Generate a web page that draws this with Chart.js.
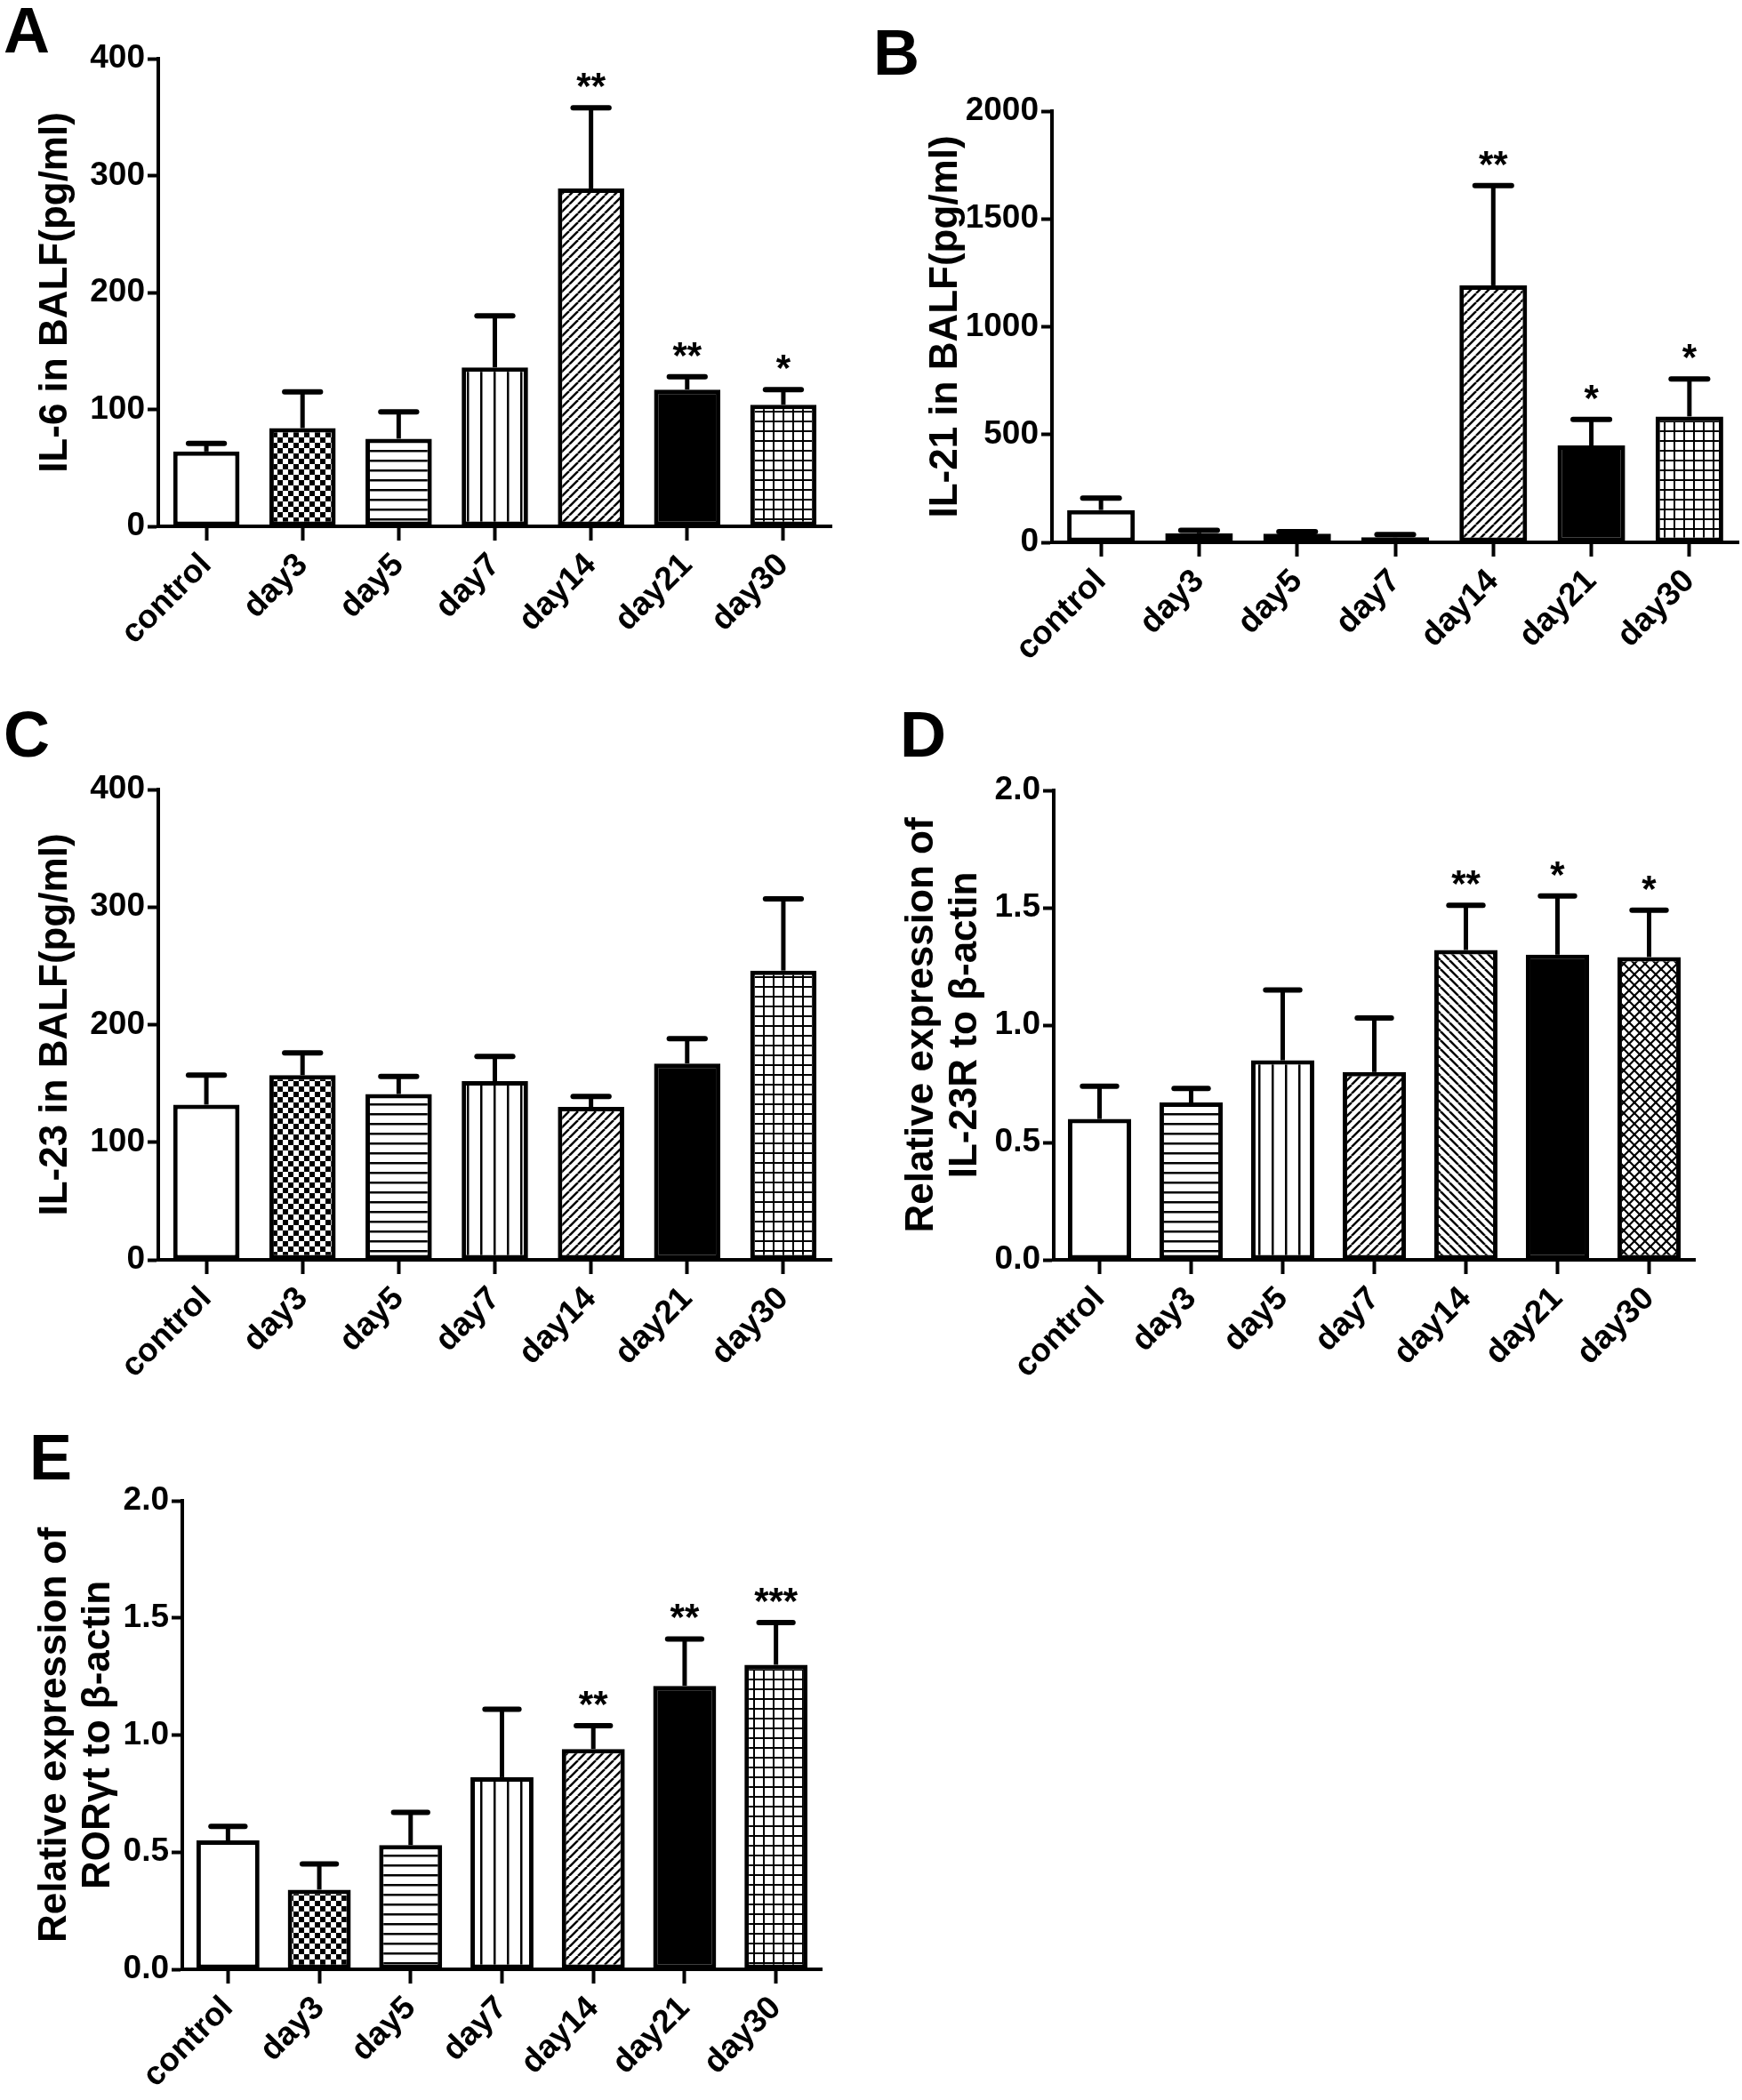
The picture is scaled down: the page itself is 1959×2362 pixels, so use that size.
<!DOCTYPE html>
<html lang="en">
<head>
<meta charset="UTF-8">
<title>IL-6, IL-21, IL-23, IL-23R and RORγt</title>
<script src="https://cdn.jsdelivr.net/npm/chart.js"></script>
<style>
  body { margin: 0; background: #fff; }
  #page { position: relative; width: 1959px; height: 2362px; overflow: hidden; background: #fff; }
  canvas { position: absolute; }
  .letter { position: absolute; font: bold 72px "Liberation Sans", Arial, sans-serif; line-height: 1; color: #000; }
</style>
</head>
<body>
<div id="page">
  <canvas id="chartA" width="980" height="790" style="left:0px;top:0px"></canvas>
  <canvas id="chartB" width="979" height="790" style="left:980px;top:0px"></canvas>
  <canvas id="chartC" width="980" height="790" style="left:0px;top:790px"></canvas>
  <canvas id="chartD" width="979" height="790" style="left:980px;top:790px"></canvas>
  <canvas id="chartE" width="980" height="782" style="left:0px;top:1580px"></canvas>
  <div class="letter" style="left:4px;top:-2px">A</div>
  <div class="letter" style="left:982px;top:23px">B</div>
  <div class="letter" style="left:4px;top:790px">C</div>
  <div class="letter" style="left:1012px;top:790px">D</div>
  <div class="letter" style="left:33px;top:1603px">E</div>
</div>

<script>
// groups on the x axis (same for every panel)
const categories = ['control', 'day3', 'day5', 'day7', 'day14', 'day21', 'day30'];

// A - IL-6 in BALF (pg/ml)
const il6Mean = [64, 84, 75, 136, 289, 117, 104];
const il6Sem = [7, 31, 23, 44, 69, 11, 13];
const il6Stars = ['', '', '', '', '**', '**', '*'];
const il6Ticks = [0, 100, 200, 300, 400];
const il6TickLabels = ['0', '100', '200', '300', '400'];

// B - IL-21 in BALF (pg/ml)
const il21Mean = [150, 42, 40, 24, 1192, 449, 584];
const il21Sem = [55, 14, 10, 12, 463, 121, 174];
const il21Stars = ['', '', '', '', '**', '*', '*'];
const il21Ticks = [0, 500, 1000, 1500, 2000];
const il21TickLabels = ['0', '500', '1000', '1500', '2000'];

// C - IL-23 in BALF (pg/ml)
const il23Mean = [132, 157, 141, 152, 130, 167, 246];
const il23Sem = [25, 19, 15, 21, 9, 21, 61];
const il23Stars = ['', '', '', '', '', '', ''];
const il23Ticks = [0, 100, 200, 300, 400];
const il23TickLabels = ['0', '100', '200', '300', '400'];

// D - relative expression of IL-23R to beta-actin
const il23rMean = [0.60, 0.67, 0.85, 0.80, 1.32, 1.30, 1.29];
const il23rSem = [0.14, 0.06, 0.30, 0.23, 0.19, 0.25, 0.20];
const il23rStars = ['', '', '', '', '**', '*', '*'];

// E - relative expression of RORgt to beta-actin
const rorMean = [0.55, 0.34, 0.53, 0.82, 0.94, 1.21, 1.30];
const rorSem = [0.06, 0.11, 0.14, 0.29, 0.10, 0.20, 0.18];
const rorStars = ['', '', '', '', '**', '**', '***'];

const relTicks = [0, 0.5, 1, 1.5, 2];
const relTickLabels = ['0.0', '0.5', '1.0', '1.5', '2.0'];

// fill style of each bar
const fillsMain = ['none', 'checker', 'hlines', 'vlines', 'diag', 'solid', 'grid'];
const fillsD = ['none', 'hlines', 'vlines', 'diag', 'diagBack', 'solid', 'weave'];

const fontFamily = '"Liberation Sans", Arial, sans-serif';

function makePattern(kind) {
    if (kind === 'none') return '#ffffff';
    if (kind === 'solid') return '#000000';
    const sizes = { checker: 12, hlines: 11, vlines: 15, diag: 10, diagBack: 10, grid: 11, weave: 12 };
    const n = sizes[kind];
    const c = document.createElement('canvas');
    c.width = n; c.height = n;
    const g = c.getContext('2d');
    g.fillStyle = '#fff';
    g.fillRect(0, 0, n, n);
    g.fillStyle = '#000';
    g.strokeStyle = '#000';
    if (kind === 'checker') {
        g.fillRect(0, 0, 6, 6);
        g.fillRect(6, 6, 6, 6);
    } else if (kind === 'hlines') {
        g.fillRect(0, 0, n, 2.5);
    } else if (kind === 'vlines') {
        g.fillRect(0, 0, 2.5, n);
    } else if (kind === 'grid') {
        g.fillRect(0, 0, n, 2);
        g.fillRect(0, 0, 2, n);
    } else {
        g.lineWidth = kind === 'weave' ? 2.2 : 2.5;
        for (let k = -n; k <= n; k += n) {
            if (kind !== 'diagBack') { g.beginPath(); g.moveTo(k, n); g.lineTo(k + n, 0); g.stroke(); }
            if (kind !== 'diag') { g.beginPath(); g.moveTo(k, 0); g.lineTo(k + n, n); g.stroke(); }
        }
    }
    return g.createPattern(c, 'repeat');
}

// error bars (upper half only) and significance stars
const errorBars = {
    id: 'errorBars',
    afterDatasetsDraw(chart) {
        const ctx = chart.ctx;
        const ds = chart.data.datasets[0];
        const y = chart.scales.y;
        ctx.save();
        ctx.strokeStyle = '#000';
        ctx.fillStyle = '#000';
        chart.getDatasetMeta(0).data.forEach(function (bar, i) {
            const yMean = y.getPixelForValue(ds.data[i]);
            const yTop = y.getPixelForValue(ds.data[i] + ds.sem[i]);
            const half = bar.width * 0.27;
            ctx.lineCap = 'butt';
            ctx.lineWidth = 5;
            ctx.beginPath(); ctx.moveTo(bar.x, yMean); ctx.lineTo(bar.x, yTop); ctx.stroke();
            ctx.lineCap = 'round';
            ctx.lineWidth = 6;
            ctx.beginPath(); ctx.moveTo(bar.x - half, yTop); ctx.lineTo(bar.x + half, yTop); ctx.stroke();
            if (ds.stars[i]) {
                ctx.font = 'bold 42px ' + fontFamily;
                ctx.textAlign = 'center';
                ctx.textBaseline = 'alphabetic';
                ctx.fillText(ds.stars[i], bar.x, yTop - 10);
            }
        });
        ctx.restore();
    }
};

function panel(p) {
    const canvas = document.getElementById(p.id);
    const W = canvas.width, H = canvas.height;
    const tickFont = { family: fontFamily, size: 37, weight: 'bold' };
    return new Chart(canvas.getContext('2d'), {
        type: 'bar',
        data: {
            labels: categories,
            datasets: [{
                data: p.mean,
                sem: p.sem,
                stars: p.stars,
                backgroundColor: p.fills.map(makePattern),
                borderColor: '#000',
                borderWidth: 5,
                borderSkipped: false,
                barPercentage: 0.69,
                categoryPercentage: 1
            }]
        },
        options: {
            responsive: false,
            animation: false,
            layout: { padding: { left: 0, top: p.area.top, right: W - p.area.right, bottom: 0 } },
            plugins: { legend: { display: false }, tooltip: { enabled: false } },
            scales: {
                x: {
                    afterFit: function (s) { s.height = H - p.area.bottom; },
                    border: { display: true, color: '#000', width: 4 },
                    grid: { offset: false, drawOnChartArea: false, color: '#000', tickColor: '#000', tickLength: 16, tickWidth: 4 },
                    ticks: { color: '#000', font: tickFont, minRotation: 45, maxRotation: 45, autoSkip: false, padding: 6 }
                },
                y: {
                    min: p.ticks[0],
                    max: p.ticks[p.ticks.length - 1],
                    afterFit: function (s) { s.width = p.area.left; },
                    afterBuildTicks: function (s) { s.ticks = p.ticks.map(function (v) { return { value: v }; }); },
                    border: { display: true, color: '#000', width: 4 },
                    grid: { drawOnChartArea: false, color: '#000', tickColor: '#000', tickLength: 12, tickWidth: 4 },
                    ticks: {
                        color: '#000', font: tickFont, padding: 3,
                        callback: function (v, i) { return p.tickLabels[i]; }
                    },
                    title: {
                        display: true,
                        text: p.title,
                        color: '#000',
                        font: { family: fontFamily, size: 44, weight: 'bold', lineHeight: 1.1 },
                        padding: { top: p.titlePad, bottom: 0 }
                    }
                }
            }
        },
        plugins: [errorBars]
    });
}

panel({ id: 'chartA', area: { left: 178, top: 66, right: 935, bottom: 592 },
    mean: il6Mean, sem: il6Sem, stars: il6Stars, fills: fillsMain,
    ticks: il6Ticks, tickLabels: il6TickLabels, title: 'IL-6 in BALF(pg/ml)', titlePad: 39 });

panel({ id: 'chartB', area: { left: 203, top: 125, right: 975, bottom: 610 },
    mean: il21Mean, sem: il21Sem, stars: il21Stars, fills: fillsMain,
    ticks: il21Ticks, tickLabels: il21TickLabels, title: 'IL-21 in BALF(pg/ml)', titlePad: 60 });

panel({ id: 'chartC', area: { left: 178, top: 98, right: 935, bottom: 627 },
    mean: il23Mean, sem: il23Sem, stars: il23Stars, fills: fillsMain,
    ticks: il23Ticks, tickLabels: il23TickLabels, title: 'IL-23 in BALF(pg/ml)', titlePad: 39 });

panel({ id: 'chartD', area: { left: 205, top: 99, right: 926, bottom: 627 },
    mean: il23rMean, sem: il23rSem, stars: il23rStars, fills: fillsD,
    ticks: relTicks, tickLabels: relTickLabels,
    title: ['Relative expression of', 'IL-23R to β-actin'], titlePad: 33 });

panel({ id: 'chartE', area: { left: 205, top: 108, right: 924, bottom: 635 },
    mean: rorMean, sem: rorSem, stars: rorStars, fills: fillsMain,
    ticks: relTicks, tickLabels: relTickLabels,
    title: ['Relative expression of', 'RORγt to β-actin'], titlePad: 38 });
</script>
</body>
</html>
